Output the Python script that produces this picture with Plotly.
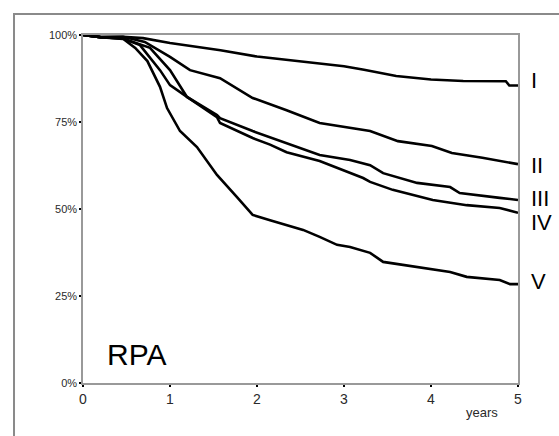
import plotly.graph_objects as go

# Survival curves (years, fraction surviving)
years_I = [0, 0.2, 0.46, 0.69, 1.0, 1.58, 2.0, 2.5, 3.0, 3.23, 3.6, 4.0, 4.37, 4.86, 4.9, 5.0]
surv_I = [1.0, 0.994, 0.995, 0.991, 0.977, 0.956, 0.938, 0.925, 0.910, 0.900, 0.882, 0.872, 0.868, 0.867, 0.855, 0.855]

years_II = [0, 0.2, 0.46, 0.71, 1.0, 1.23, 1.575, 1.95, 2.34, 2.72, 3.30, 3.62, 4.01, 4.24, 4.59, 4.97, 5.0]
surv_II = [1.0, 0.994, 0.995, 0.980, 0.937, 0.899, 0.876, 0.819, 0.784, 0.747, 0.724, 0.695, 0.681, 0.661, 0.647, 0.629, 0.629]

years_III = [0, 0.2, 0.46, 0.77, 1.0, 1.195, 1.54, 1.575, 1.95, 2.34, 2.72, 3.07, 3.30, 3.45, 3.84, 4.22, 4.33, 4.79, 5.0]
surv_III = [1.0, 0.994, 0.99, 0.963, 0.899, 0.822, 0.770, 0.761, 0.724, 0.690, 0.655, 0.641, 0.626, 0.603, 0.575, 0.563, 0.546, 0.532, 0.526]

years_IV = [0, 0.2, 0.46, 0.655, 0.885, 1.0, 1.195, 1.54, 1.575, 1.95, 2.15, 2.34, 2.72, 3.22, 3.30, 3.56, 4.02, 4.41, 4.79, 5.0]
surv_IV = [1.0, 0.994, 0.99, 0.971, 0.899, 0.856, 0.822, 0.764, 0.747, 0.704, 0.685, 0.663, 0.638, 0.589, 0.578, 0.555, 0.526, 0.511, 0.503, 0.489]

years_V = [0, 0.2, 0.46, 0.6, 0.74, 0.885, 0.966, 1.115, 1.31, 1.54, 1.77, 1.95, 2.15, 2.53, 2.72, 2.92, 3.07, 3.30, 3.45, 3.84, 4.22, 4.41, 4.79, 4.91, 5.0]
surv_V = [1.0, 0.994, 0.989, 0.963, 0.925, 0.851, 0.790, 0.724, 0.678, 0.598, 0.534, 0.483, 0.468, 0.440, 0.420, 0.397, 0.391, 0.374, 0.348, 0.333, 0.319, 0.305, 0.296, 0.284, 0.284]

group_names = ["I", "II", "III", "IV", "V"]
label_y = [0.869, 0.626, 0.530, 0.460, 0.293]

x_ticks = [0, 1, 2, 3, 4, 5]
y_ticks = [0, 0.25, 0.5, 0.75, 1.0]
y_tick_text = ["0%", "25%", "50%", "75%", "100%"]

series = [(years_I, surv_I), (years_II, surv_II), (years_III, surv_III),
          (years_IV, surv_IV), (years_V, surv_V)]

FONT = "Liberation Sans, Arial, Helvetica, sans-serif"

fig = go.Figure()
for (xs, ys), name in zip(series, group_names):
    fig.add_trace(go.Scatter(x=xs, y=ys, mode="lines", name=name,
                             line=dict(color="black", width=2.6),
                             showlegend=False, hoverinfo="skip"))

for name, yv in zip(group_names, label_y):
    fig.add_annotation(x=1.0253, xref="paper", y=yv, yref="y", text=name,
                       showarrow=False, xanchor="left", yanchor="middle",
                       font=dict(family=FONT, size=22, color="black"))

fig.add_annotation(x=0.05, xref="paper", y=0.083, yref="y", text="RPA",
                   showarrow=False, xanchor="left", yanchor="middle",
                   font=dict(family=FONT, size=30, color="black"))

fig.add_annotation(x=0.917, xref="paper", y=-0.0853, yref="paper", text="years",
                   showarrow=False, xanchor="center", yanchor="middle",
                   font=dict(family=FONT, size=13, color="#2a2a2a"))

# outer frame
fig.add_shape(type="rect", xref="paper", yref="paper",
              x0=-0.1586, x1=1.3, y0=-0.4, y1=1.0603,
              line=dict(color="#8a8a8a", width=2))

fig.update_layout(
    width=559, height=436,
    margin=dict(l=83, r=41, t=35, b=53),
    paper_bgcolor="white", plot_bgcolor="white",
    xaxis=dict(range=[0, 5], tickvals=x_ticks, ticks="outside", ticklen=2,
               tickcolor="black", tickwidth=2, showgrid=False, zeroline=False,
               showline=True, linecolor="#999", linewidth=1.5, mirror=True,
               tickfont=dict(family=FONT, size=14, color="#2a2a2a")),
    yaxis=dict(range=[0, 1], tickvals=y_ticks, ticktext=y_tick_text,
               ticks="outside", ticklen=2, tickcolor="black", tickwidth=2,
               showgrid=False, zeroline=False, showline=True, linecolor="#999",
               linewidth=1.5, mirror=True,
               tickfont=dict(family=FONT, size=11, color="#2a2a2a")),
)

fig.write_html("out.html")
